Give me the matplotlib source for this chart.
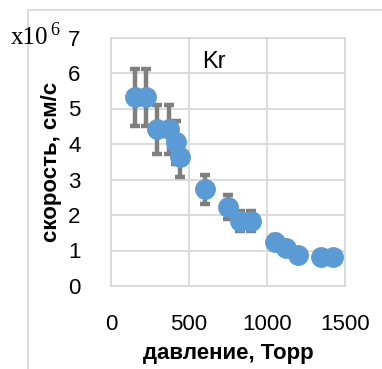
import matplotlib
matplotlib.use('Agg')
import matplotlib.pyplot as plt
from matplotlib.lines import Line2D

# data
pressure = [152, 225, 298, 373, 416, 443, 601, 747, 827, 897, 1049, 1122, 1196, 1348, 1424]
velocity = [5.31, 5.31, 4.41, 4.41, 4.05, 3.62, 2.72, 2.22, 1.83, 1.83, 1.24, 1.06, 0.87, 0.81, 0.81]
vel_err = [0.80, 0.80, 0.68, 0.68, 0.60, 0.55, 0.41, 0.33, 0.28, 0.28, 0.19, 0.16, 0.13, 0.12, 0.12]

xticks = [0, 500, 1000, 1500]
yticks = [0, 1, 2, 3, 4, 5, 6, 7]

plt.rcParams['font.family'] = ['Liberation Sans', 'DejaVu Sans']

W, H = 382, 369
fig = plt.figure(figsize=(W / 100, H / 100), dpi=100)
ax = fig.add_axes([111 / W, 1 - 286 / H, (345 - 111) / W, (286 - 37.5) / H])

grid_c = '#D9D9D9'
ax.errorbar(pressure, velocity, yerr=vel_err, fmt='none', ecolor='#7F7F7F',
            elinewidth=3.2, capsize=3.6, capthick=3.2, zorder=2)
ax.plot(pressure, velocity, 'o', color='#5B9BD5', markersize=14, zorder=3)

ax.set_xlim(0, 1500)
ax.set_ylim(0, 7)
ax.set_xticks(xticks)
ax.set_yticks(yticks)
ax.grid(True, color=grid_c, linewidth=1.3, zorder=0)
ax.set_axisbelow(True)
for s in ax.spines.values():
    s.set_color(grid_c)
    s.set_linewidth(1.3)
ax.tick_params(length=0, labelsize=16)
ax.tick_params(axis='x', pad=20)
ax.tick_params(axis='y', pad=22)

ax.set_xlabel('давление, Торр', fontsize=16, fontweight='bold', labelpad=6)
ax.set_ylabel('скорость, см/с', fontsize=16, fontweight='bold')
ax.yaxis.set_label_coords((62 - 111) / 234, 0.5)

ax.text(582, 6.3, 'Kr', fontsize=17, va='center', ha='left')
fig.text(11 / W, 1 - 44 / H, 'x10', fontsize=18, family='Liberation Serif',
         va='baseline', ha='left')
fig.text(50 / W, 1 - 35 / H, '6', fontsize=13, family='Liberation Serif',
         va='baseline', ha='left')

# outer chart frame (only left and top visible)
fig.add_artist(Line2D([28 / W, 28 / W], [0, 1 - 10 / H], color=grid_c, lw=1.3,
                      transform=fig.transFigure))
fig.add_artist(Line2D([28 / W, 1], [1 - 10 / H, 1 - 10 / H], color=grid_c, lw=1.3,
                      transform=fig.transFigure))

fig.savefig('out.png', dpi=100)
